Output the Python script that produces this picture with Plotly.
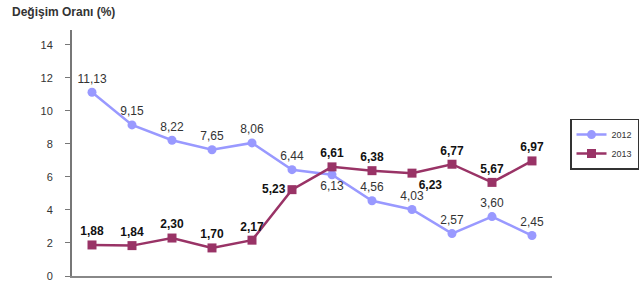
import plotly.graph_objects as go

categories = list(range(12))
values_2012 = [11.13, 9.15, 8.22, 7.65, 8.06, 6.44, 6.13, 4.56, 4.03, 2.57, 3.60, 2.45]
values_2013 = [1.88, 1.84, 2.30, 1.70, 2.17, 5.23, 6.61, 6.38, 6.23, 6.77, 5.67, 6.97]
pos_2012 = ["top center"] * 6 + ["bottom center"] + ["top center"] * 5
pos_2013 = ["top center"] * 5 + ["middle left", "top center", "top center", "bottom right",
                                  "top center", "top center", "top center"]
y_ticks = [0, 2, 4, 6, 8, 10, 12, 14]


def fmt(v):
    return f"{v:.2f}".replace(".", ",")


fig = go.Figure()
fig.add_trace(go.Scatter(
    x=categories, y=values_2012, name="2012", mode="lines+markers+text",
    line=dict(color="#9999FF", width=2.5),
    marker=dict(symbol="circle", size=9, color="#9999FF"),
    text=[fmt(v) for v in values_2012], textposition=pos_2012,
    textfont=dict(family="Liberation Sans, Arial", size=12, color="#333333"),
))
fig.add_trace(go.Scatter(
    x=categories, y=values_2013, name="2013", mode="lines+markers+text",
    line=dict(color="#993366", width=2.5),
    marker=dict(symbol="square", size=9, color="#993366"),
    text=["<b>" + fmt(v) + "</b>" for v in values_2013], textposition=pos_2013,
    textfont=dict(family="Liberation Sans, Arial", size=12, color="#111111"),
))

fig.update_layout(
    width=643, height=290,
    margin=dict(l=72, r=91, t=30, b=14, autoexpand=False),
    paper_bgcolor="white", plot_bgcolor="white",
    font=dict(family="Liberation Sans, Arial", size=10, color="#333333"),
    showlegend=True,
    legend=dict(x=1.0375, y=0.64, xanchor="left", yanchor="top",
                bordercolor="#333333", borderwidth=1.5, bgcolor="white",
                font=dict(size=9, color="#333333"), tracegroupgap=2),
    annotations=[dict(text="<b>Değişim Oranı (%)</b>", xref="paper", yref="paper",
                      x=-62 / 480, y=1 + 18 / 246, xanchor="left", yanchor="middle",
                      showarrow=False, font=dict(size=12, color="#333333"))],
)
fig.update_xaxes(range=[-0.5, 11.5], showticklabels=False, showgrid=False,
                 zeroline=False, showline=True, linecolor="#888888", linewidth=1.5,
                 ticks="", automargin=False)
fig.update_yaxes(range=[0, 14.9], tickvals=y_ticks, showgrid=False, zeroline=False,
                 showline=True, linecolor="#777777", linewidth=2, ticks="outside",
                 ticklen=5, tickcolor="#777777", ticklabelstandoff=10,
                 tickfont=dict(size=11, color="#333333"), automargin=False)

fig.write_html("out.html", config={"displayModeBar": False},
               post_script="document.body.style.margin='0';document.body.style.overflow='hidden';")
